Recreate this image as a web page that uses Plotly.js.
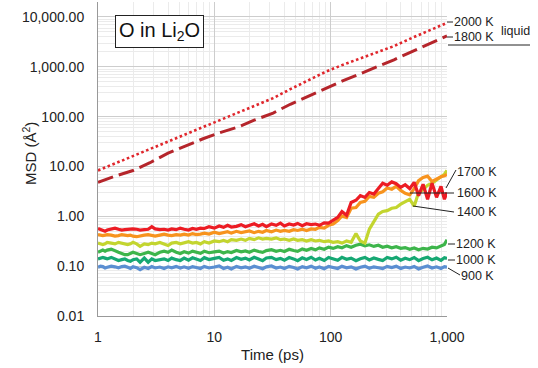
<!DOCTYPE html>
<html>
<head>
<meta charset="utf-8">
<script src="https://cdn.plot.ly/plotly-3.0.1.min.js"></script>
<style>html,body{margin:0;padding:0;background:#fff;}#chart{width:538px;height:368px;}</style>
</head>
<body>
<div id="chart"></div>
<script>
// ---- data ----
const timeSolid = [1, 1.05, 1.1, 1.15, 1.2, 1.3, 1.4, 1.5, 1.6, 1.7, 1.8, 1.9, 2.0, 2.15, 2.3, 2.5, 2.7, 2.9, 3.1, 3.4, 3.7, 4.0, 4.3, 4.7, 5.1, 5.5, 6.0, 6.5, 7.0, 7.6, 8.2, 9.0, 10, 11, 12, 13, 14, 15.5, 17, 18.5, 20, 22, 24, 26, 28, 31, 34, 37, 40, 44, 48, 52, 57, 62, 68, 74, 80, 88, 96, 105, 115, 125, 137, 150, 165, 180, 197, 215, 235, 257, 280, 306, 335, 366, 400, 437, 478, 522, 570, 623, 681, 744, 813, 888, 950, 1000];

const msd1700 = [0.57, 0.55, 0.52, 0.50, 0.53, 0.56, 0.58, 0.55, 0.53, 0.54, 0.55, 0.54, 0.56, 0.55, 0.53, 0.54, 0.55, 0.62, 0.56, 0.54, 0.55, 0.53, 0.56, 0.54, 0.58, 0.55, 0.53, 0.57, 0.55, 0.58,
  0.57, 0.62, 0.58, 0.64, 0.60, 0.66, 0.61, 0.63, 0.68, 0.62, 0.66, 0.71, 0.64, 0.69, 0.62, 0.70, 0.66, 0.73, 0.64, 0.70, 0.67, 0.72, 0.65, 0.71, 0.68, 0.70, 0.66, 0.74, 0.73, 0.85,
  0.95, 1.25, 1.05, 1.9, 2.1, 2.6, 2.4, 3.0, 2.8, 3.6, 4.6, 4.2, 4.9, 4.5, 3.8, 4.3, 3.6, 4.8, 2.6, 4.4, 2.2, 4.6, 2.4, 4.0, 2.2, 3.0];
const msd1600 = [0.43, 0.42, 0.41, 0.42, 0.43, 0.42, 0.40, 0.41, 0.43, 0.42, 0.41, 0.42, 0.40, 0.39, 0.41, 0.42, 0.43, 0.41, 0.40, 0.42, 0.44, 0.42, 0.41, 0.43, 0.42, 0.44, 0.42, 0.45, 0.43, 0.44,
  0.46, 0.44, 0.48, 0.45, 0.47, 0.49, 0.46, 0.50, 0.47, 0.49, 0.51, 0.47, 0.50, 0.48, 0.52, 0.49, 0.53, 0.50, 0.52, 0.50, 0.54, 0.52, 0.55, 0.52, 0.56, 0.55, 0.60, 0.58, 0.66, 0.70,
  0.82, 1.02, 0.95, 1.45, 1.5, 1.9, 2.0, 2.5, 2.4, 2.9, 3.1, 3.7, 3.5, 4.0, 3.3, 2.9, 2.7, 3.6, 5.2, 6.0, 6.4, 5.0, 5.6, 6.2, 6.5, 6.9];
const msd1400 = [0.29, 0.28, 0.27, 0.28, 0.30, 0.29, 0.28, 0.30, 0.29, 0.28, 0.27, 0.28, 0.30, 0.28, 0.25, 0.28, 0.27, 0.29, 0.28, 0.30, 0.28, 0.26, 0.29, 0.30, 0.28, 0.29, 0.31, 0.29, 0.30, 0.28,
  0.31, 0.29, 0.32, 0.31, 0.33, 0.31, 0.34, 0.33, 0.35, 0.33, 0.36, 0.34, 0.37, 0.35, 0.36, 0.35, 0.37, 0.34, 0.35, 0.33, 0.35, 0.33, 0.34, 0.32, 0.34, 0.32, 0.33, 0.31, 0.32, 0.30,
  0.31, 0.29, 0.32, 0.30, 0.45, 0.32, 0.29, 0.55, 0.80, 1.1, 1.25, 1.3, 1.45, 1.5, 1.75, 2.0, 2.2, 1.6, 3.0, 3.4, 4.2, 4.6, 5.3, 6.2, 7.0, 8.3];
const msd1200 = [0.19, 0.20, 0.21, 0.20, 0.21, 0.22, 0.20, 0.19, 0.18, 0.17, 0.17, 0.18, 0.19, 0.18, 0.17, 0.18, 0.19, 0.18, 0.17, 0.19, 0.20, 0.19, 0.21, 0.19, 0.18,
  0.195, 0.183, 0.20, 0.188, 0.181, 0.199, 0.186, 0.194, 0.201, 0.184,
  0.196, 0.188, 0.207, 0.194, 0.202, 0.19, 0.21, 0.197, 0.189, 0.205,
  0.214, 0.199, 0.208, 0.197, 0.219, 0.206, 0.198, 0.222, 0.209, 0.226,
  0.212, 0.232, 0.219, 0.241, 0.227, 0.245, 0.234, 0.258, 0.24, 0.262,
  0.275, 0.255, 0.268, 0.249, 0.263, 0.24, 0.252, 0.233, 0.246, 0.228,
  0.236, 0.218, 0.232, 0.214, 0.228, 0.221, 0.24, 0.232, 0.258, 0.272, 0.34];
const msd1000 = [0.14, 0.145, 0.15, 0.145, 0.14, 0.15, 0.14, 0.13, 0.135, 0.14, 0.13, 0.125, 0.135, 0.14, 0.12, 0.145, 0.12, 0.14, 0.13, 0.135, 0.14, 0.13, 0.145, 0.135, 0.13,
  0.145, 0.132, 0.147, 0.138, 0.13, 0.148, 0.136, 0.143, 0.15, 0.131,
  0.14, 0.13, 0.149, 0.137, 0.145, 0.133, 0.151, 0.139, 0.129, 0.146,
  0.15, 0.135, 0.143, 0.131, 0.149, 0.14, 0.129, 0.147, 0.136, 0.151,
  0.133, 0.144, 0.13, 0.149, 0.138, 0.131, 0.15, 0.137, 0.145, 0.129,
  0.141, 0.15, 0.133, 0.146, 0.137, 0.13, 0.149, 0.14, 0.151, 0.132,
  0.144, 0.135, 0.149, 0.129, 0.142, 0.151, 0.134, 0.146, 0.131, 0.148, 0.143];
const msd900 = [0.095, 0.10, 0.098, 0.092, 0.095, 0.10, 0.097, 0.093, 0.098, 0.10, 0.095, 0.09, 0.097, 0.093, 0.085, 0.095, 0.09, 0.098, 0.092, 0.096, 0.09, 0.097, 0.093, 0.099, 0.092,
  0.097, 0.091, 0.098, 0.094, 0.09, 0.099, 0.092, 0.096, 0.101, 0.09,
  0.095, 0.088, 0.099, 0.093, 0.097, 0.091, 0.10, 0.094, 0.089, 0.097,
  0.101, 0.092, 0.096, 0.09, 0.099, 0.094, 0.088, 0.098, 0.093, 0.10,
  0.091, 0.096, 0.089, 0.099, 0.094, 0.09, 0.10, 0.093, 0.097, 0.088,
  0.095, 0.10, 0.091, 0.097, 0.093, 0.089, 0.099, 0.094, 0.10, 0.09,
  0.096, 0.092, 0.099, 0.088, 0.095, 0.101, 0.092, 0.097, 0.09, 0.098, 0.095];

const timeLiquid = [1, 1.4, 2, 2.8, 4, 5.6, 8, 11, 16, 22, 32, 45, 63, 90, 125, 180, 250, 350, 500, 700, 1000];
const msd2000 = [8.3, 11.5, 16, 22, 31, 43, 60, 82, 118, 165, 235, 355, 520, 790, 1080, 1460, 1900, 2600, 3800, 5400, 7600];
const msd1800 = [4.8, 6.4, 8.3, 11.9, 18.5, 26, 36, 47, 62, 85, 118, 177, 254, 372, 515, 727, 985, 1380, 2020, 2870, 4170];

const yTickVals = [0.01, 0.1, 1, 10, 100, 1000, 10000];
const yTickText = ["0.01", "0.10", "1.00", "10.00", "100.00", "1,000.00", "10,000.00"];
const xTickVals = [1, 10, 100, 1000];
const xTickText = ["1", "10", "100", "1,000"];

const seriesLabels = ["2000 K", "1800 K", "1700 K", "1600 K", "1400 K", "1200 K", "1000 K", "900 K"];

// ---- traces ----
function solid(y, name, color) {
  return {x: timeSolid, y: y, name: name, type: 'scatter', mode: 'lines',
          line: {color: color, width: 3.2}, hoverinfo: 'skip'};
}
const traces = [
  solid(msd900, '900 K', '#5b8fd2'),
  solid(msd1000, '1000 K', '#16a873'),
  solid(msd1200, '1200 K', '#3db54b'),
  solid(msd1400, '1400 K', '#c3d52f'),
  solid(msd1600, '1600 K', '#f7931e'),
  solid(msd1700, '1700 K', '#ec1c24'),
  {x: timeLiquid, y: msd1800, name: '1800 K', type: 'scatter', mode: 'lines',
   line: {color: '#b5252b', width: 3, dash: '16px,6px'}, hoverinfo: 'skip'},
  {x: timeLiquid, y: msd2000, name: '2000 K', type: 'scatter', mode: 'lines',
   line: {color: '#e0262c', width: 2.6, dash: '2.6px,2.6px'}, hoverinfo: 'skip'}
];

// ---- helpers for right-hand labels (paper coords from pixel positions) ----
const L = 98, R = 447, T = 2, B = 316;
const px = v => (v - L) / (R - L);
const py = v => (B - v) / (B - T);
const lbl = (text, x, y, size) => ({xref: 'paper', yref: 'paper', x: px(x), y: py(y), text: text,
  showarrow: false, xanchor: 'left', yanchor: 'middle', font: {size: size || 12.5, color: '#222'}, borderpad: 0});
const seg = (x0, y0, x1, y1) => ({type: 'line', xref: 'paper', yref: 'paper',
  x0: px(x0), y0: py(y0), x1: px(x1), y1: py(y1), line: {color: '#222', width: 1}});

const annotations = [
  lbl(seriesLabels[0], 453, 22), lbl(seriesLabels[1], 453, 37), lbl('liquid', 500, 31),
  lbl(seriesLabels[2], 456, 172), lbl(seriesLabels[3], 456, 193), lbl(seriesLabels[4], 456, 212),
  lbl(seriesLabels[5], 455, 244), lbl(seriesLabels[6], 455, 260), lbl(seriesLabels[7], 460, 276),
  {xref: 'paper', yref: 'paper', x: px(159), y: py(31.5), text: 'O in Li<sub>2</sub>O', showarrow: false,
   xanchor: 'center', yanchor: 'middle', font: {size: 20, color: '#111'}, bordercolor: '#222', borderwidth: 1,
   borderpad: 3, bgcolor: '#fff'},
  {xref: 'paper', yref: 'paper', x: px(29), y: py(154), text: 'MSD (Å<sup>2</sup>)', showarrow: false,
   textangle: -90, xanchor: 'center', yanchor: 'middle', font: {size: 15, color: '#222'}}
];
const shapes = [
  seg(447, 22, 453, 22), seg(447, 37, 453, 37), seg(448, 45, 530, 45),
  seg(446, 188, 456, 170), seg(410, 193, 454, 193), seg(413, 206, 454, 212),
  seg(448, 244, 455, 244), seg(448, 260, 455, 260), seg(448, 268, 460, 275)
];

const layout = {
  width: 538, height: 368,
  margin: {l: L, r: 538 - R, t: T, b: 368 - B},
  paper_bgcolor: '#fff', plot_bgcolor: '#fff',
  showlegend: false,
  font: {family: 'Liberation Sans, Arial, sans-serif', color: '#222'},
  xaxis: {type: 'log', range: [0, 3], tickmode: 'array', tickvals: xTickVals, ticktext: xTickText,
          showgrid: true, gridcolor: '#cdcdcd', gridwidth: 1, zeroline: false,
          showline: true, linecolor: '#999', linewidth: 1, ticks: '', ticklabelstandoff: 8,
          tickfont: {size: 14, color: '#222'},
          minor: {dtick: 'D1', showgrid: true, gridcolor: '#ebebeb', gridwidth: 1},
          title: {text: 'Time (ps)', font: {size: 15, color: '#222'}, standoff: 5}},
  yaxis: {type: 'log', range: [-2, 4.3], tickmode: 'array', tickvals: yTickVals, ticktext: yTickText,
          showgrid: true, gridcolor: '#cdcdcd', gridwidth: 1, zeroline: false,
          showline: true, linecolor: '#999', linewidth: 1, ticks: '', ticklabelstandoff: 10,
          tickfont: {size: 14, color: '#222'},
          minor: {dtick: 'D1', showgrid: true, gridcolor: '#ebebeb', gridwidth: 1}},
  annotations: annotations,
  shapes: shapes
};

Plotly.newPlot('chart', traces, layout, {staticPlot: true, displayModeBar: false});
</script>
</body>
</html>
